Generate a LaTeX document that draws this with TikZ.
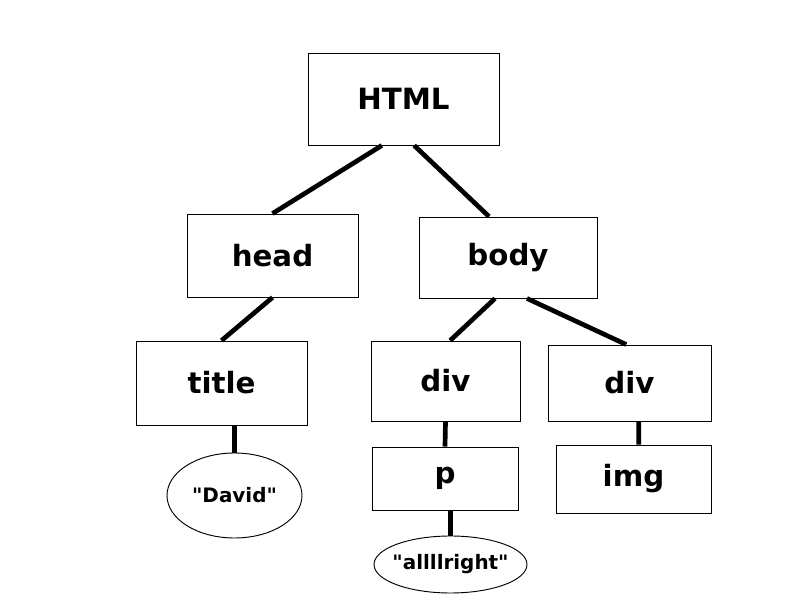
\documentclass[tikz,border=0pt]{standalone}
\usepackage{fontspec}
\setmainfont{DejaVu Sans}
\usetikzlibrary{shapes.geometric}
\begin{document}
\begin{tikzpicture}[x=0.03cm, y=-0.03cm]
      \tikzset{tag/.style={draw, line width=0.8pt, fill=white, inner sep=0pt, font=\bfseries\fontsize{25}{29}\selectfont},
               txt/.style={draw, ellipse, line width=0.8pt, fill=white, inner sep=0pt, font=\bfseries\fontsize{17}{20}\selectfont},
               link/.style={line width=4pt}}
      \useasboundingbox (0,0) rectangle (800,600);
%% Elements
      	\node[tag, minimum width=5.73cm, minimum height=2.76cm] (html) at (403.5,99) {HTML};
      	\node[tag, minimum width=5.13cm, minimum height=2.49cm] (head) at (272.5,255.5) {head};
      	\node[tag, minimum width=5.34cm, minimum height=2.43cm] (body) at (508,257.5) {body};
      	\node[tag, minimum width=5.13cm, minimum height=2.52cm] (title) at (221.5,383) {title};
      	\node[tag, minimum width=4.47cm, minimum height=2.40cm] (div1) at (445.5,381) {div};
      	\node[tag, minimum width=4.89cm, minimum height=2.28cm] (div2) at (629.5,383) {div};
      	\node[tag, minimum width=4.38cm, minimum height=1.89cm] (p) at (445,478.5) {p};
      	\node[tag, minimum width=4.65cm, minimum height=2.04cm] (img) at (633.5,479) {img};
%% Text
      	\node[txt, minimum width=4.05cm, minimum height=2.55cm] (david) at (234.5,495.5) {\textquotedbl David\textquotedbl};
      	\node[txt, inner xsep=-6pt, minimum width=4.59cm, minimum height=1.71cm] (alright) at (450.5,564.5) {\textquotedbl allllright\textquotedbl};
%Links
		\draw[link] ([xshift=-0.65cm]html.south) -- (head.north);
		\draw[link] ([xshift=0.32cm]html.south) -- ([xshift=-0.57cm]body.north);
		\draw[link] (head.south) -- (title.north);
		\draw[link] ([xshift=-0.39cm]body.south) -- ([xshift=0.14cm]div1.north);
		\draw[link] ([xshift=0.57cm]body.south) -- ([xshift=-0.1cm]div2.north);
		\draw[link] (title.south -| david.north) -- (david.north);
		\draw[link] (div1.south) -- (p.north);
		\draw[link] ([xshift=0.28cm]div2.south) -- ([xshift=0.16cm]img.north);
		\draw[link] (p.south -| alright.north) -- (alright.north);
	\end{tikzpicture}
\end{document}
